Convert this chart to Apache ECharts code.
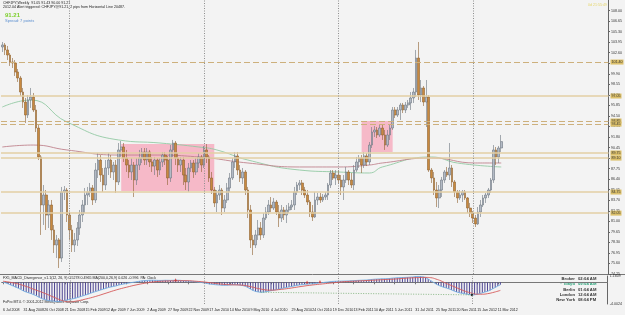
<!DOCTYPE html>
<html>
<head>
<meta charset="utf-8">
<title>CHFJPY Weekly</title>
<script src="https://cdn.jsdelivr.net/npm/echarts@6/dist/echarts.min.js"></script>
<style>
html, body { margin: 0; padding: 0; background: #f3f3f3; }
#chart { width: 625px; height: 315px; }
</style>
</head>
<body>
<div id="chart"></div>
<script>
// weekly bars, [open, close, low, high]
var bars2008 = [
	[103.33,103.59,102.69,103.97],[103.59,102.95,102.30,103.84],[102.95,102.30,101.66,103.46],
	[102.30,101.41,100.90,102.56],[101.41,101.28,100.64,101.92],[101.28,100.13,99.62,101.66],
	[100.13,99.36,98.85,100.51],[99.36,97.56,97.05,99.62],[97.56,96.28,95.52,98.08],
	[96.28,94.62,93.59,96.80],[94.62,96.54,94.23,97.18],[96.54,96.92,95.52,98.08],
	[96.92,95.26,95.00,97.44],[95.26,92.95,92.44,95.90],[92.95,89.24,88.85,93.34],
	[89.24,83.09,79.25,89.49],[83.09,84.37,80.53,85.65],[84.37,81.81,79.89,85.01],
	[81.81,83.09,80.14,83.73],[83.09,79.89,78.61,83.73],[79.89,77.97,76.94,80.53],
	[77.97,78.61,76.30,79.25],[78.61,76.30,75.02,78.86],[76.30,84.76,75.79,85.40],
	[84.76,85.01,83.73,85.52],[85.01,81.81,80.91,85.27]
];
var bars2009 = [
	[81.81,79.89,78.61,82.19],[79.89,77.97,77.07,80.53],[77.97,78.61,77.07,79.50],
	[78.61,80.14,77.84,80.91],[80.14,81.81,79.25,82.45],[81.81,83.09,80.91,83.73],
	[83.09,84.37,82.06,85.27],[84.37,84.76,83.09,85.40],[84.76,85.27,84.11,85.91],
	[85.27,83.73,83.09,85.65],[83.73,87.57,83.35,88.47],[87.57,88.85,86.55,89.75],
	[88.85,86.93,86.04,89.49],[86.93,85.65,84.76,87.83],[85.65,87.83,85.01,88.85],
	[87.83,88.85,86.93,89.75],[88.85,87.32,86.55,89.49],[87.32,88.21,86.29,88.60],
	[88.21,86.04,84.63,88.85],[86.04,90.14,85.65,91.03],[90.14,90.52,89.24,91.29],
	[90.52,89.11,88.60,91.03],[89.11,88.21,87.32,90.14],[88.21,87.32,86.55,88.85],
	[87.32,88.21,86.29,89.11],[88.21,86.29,84.11,88.60],[86.29,88.21,85.65,89.11],
	[88.21,89.11,87.57,90.14],[89.11,89.88,88.47,90.39],[89.88,88.85,88.21,90.39],
	[88.85,89.88,88.21,90.39],[89.88,88.60,87.96,90.14],[88.60,88.08,87.32,89.24],
	[88.08,88.85,86.93,89.24],[88.85,87.57,86.68,89.11],[87.57,88.60,86.93,89.11],
	[88.60,89.49,87.96,89.88],[89.49,88.85,88.21,89.88],[88.85,86.55,85.65,89.37],
	[86.55,90.14,86.04,90.77],[90.14,91.03,89.24,91.42],[91.03,89.11,88.21,91.29],
	[89.11,88.21,87.32,89.75],[88.21,88.85,87.32,89.24],[88.85,86.93,85.65,89.24],
	[86.93,86.04,85.01,87.83],[86.04,87.83,84.76,88.47],[87.83,88.47,87.32,88.85],
	[88.47,87.32,86.55,88.85],[87.32,88.47,86.93,89.11],[88.47,89.24,87.83,89.75],
	[89.24,88.21,87.32,89.49]
];
var bars2010 = [
	[88.21,90.14,87.83,90.65],[90.14,89.24,88.47,90.90],[89.24,86.55,86.04,89.49],
	[86.55,85.01,84.50,87.32],[85.01,83.35,82.83,85.40],[83.35,84.37,82.19,85.01],
	[84.37,85.01,83.73,85.65],[85.01,82.70,81.81,85.27],[82.70,83.73,82.19,84.37],
	[83.73,85.27,83.35,85.91],[85.27,86.55,84.76,87.19],[86.55,88.60,86.29,89.11],
	[88.60,89.37,87.83,89.88],[89.37,87.57,86.93,89.88],[87.57,86.55,86.04,88.21],
	[86.55,87.32,85.78,87.83],[87.32,85.01,84.37,87.57],[85.01,82.45,81.42,85.40],
	[82.45,78.61,77.58,83.09],[78.61,77.97,76.68,79.25],[77.97,79.25,77.58,79.89],
	[79.25,80.14,78.61,81.17],[80.14,79.25,78.61,80.91],[79.25,81.42,78.86,82.06],
	[81.42,82.19,81.17,82.83],[82.19,83.09,81.81,83.73],[83.09,82.70,82.19,84.11],
	[82.70,83.47,82.45,83.99],[83.47,82.19,81.81,83.73],[82.19,81.42,80.27,83.09],
	[81.42,82.45,80.91,83.09],[82.45,81.81,81.17,82.83],[81.81,82.45,80.78,83.09],
	[82.45,82.83,82.06,83.35],[82.83,83.09,82.45,83.73],[83.09,84.76,82.45,85.40],
	[84.76,85.65,84.37,86.04],[85.65,85.91,85.01,86.29],[85.91,85.01,84.37,86.29],
	[85.01,84.37,83.99,85.40],[84.37,83.47,83.09,85.01],[83.47,82.19,81.55,83.73],
	[82.19,81.55,81.04,83.09],[81.55,83.73,81.42,84.76],[83.73,84.11,83.09,84.63],
	[84.11,83.73,83.35,84.63],[83.73,84.11,83.47,84.50],[84.11,84.37,83.73,84.76],
	[84.37,85.65,83.73,85.91],[85.65,87.19,85.27,87.57],[87.19,86.55,86.29,87.57],
	[86.55,86.93,85.65,87.57]
];
var bars2011 = [
	[86.93,86.29,85.78,87.57],[86.29,85.40,84.37,86.93],[85.40,86.29,83.73,86.93],
	[86.29,87.32,85.91,87.96],[87.32,86.29,85.65,87.57],[86.29,85.65,85.27,87.19],
	[85.65,87.57,85.01,88.21],[87.57,88.60,87.32,89.24],[88.60,89.11,87.83,89.49],
	[89.11,88.21,87.19,89.49],[88.21,89.37,87.83,89.88],[89.37,88.60,88.08,89.75],
	[88.60,90.77,88.21,91.16],[90.77,92.44,90.39,93.08],[92.44,92.70,91.80,93.21],
	[92.70,92.06,91.67,93.08],[92.06,92.95,91.80,93.34],[92.95,92.06,91.42,93.34],
	[92.06,90.77,90.14,92.70],[90.77,92.06,90.52,92.70],[92.06,92.95,91.42,93.34],
	[92.95,95.26,92.70,95.64],[95.26,94.62,94.23,95.64],[94.62,95.26,94.36,95.64],
	[95.26,95.90,93.98,96.16],[95.90,95.26,94.87,96.16],[95.26,95.90,94.87,96.28],
	[95.90,96.16,95.52,96.54],[96.16,96.80,95.26,97.56],[96.80,97.56,96.16,98.08],
	[97.56,101.92,96.92,102.95],[101.92,97.18,96.54,103.97],[97.18,98.08,96.28,99.10],
	[98.08,96.28,95.77,98.33],[96.28,96.92,93.08,99.10],[96.92,87.57,87.32,97.18],
	[87.57,86.55,85.91,87.83],[86.55,85.01,84.37,87.32],[85.01,83.99,82.83,86.04],
	[83.99,85.01,82.70,85.65],[85.01,86.29,84.11,86.68],[86.29,87.32,85.91,87.57],
	[87.32,86.93,86.68,87.96],[86.93,87.83,86.29,91.03],[87.83,86.04,85.40,88.21],
	[86.04,84.76,84.11,86.29],[84.76,83.99,83.35,85.01],[83.99,84.37,83.73,85.01],
	[84.37,84.76,83.47,85.01],[84.76,83.99,83.73,85.01],[83.99,82.70,82.06,84.11],
	[82.70,82.06,81.55,83.35]
];
var bars2012 = [
	[82.06,81.42,80.78,82.32],[81.42,80.66,80.27,81.81],[80.66,82.19,80.53,82.83],
	[82.19,83.09,81.55,83.73],[83.09,83.99,82.83,84.37],[83.99,84.37,83.35,84.63],
	[84.37,85.01,83.99,85.27],[85.01,86.29,84.63,86.55],[86.29,90.14,85.91,90.77],
	[90.14,89.24,88.21,90.52],[89.24,90.39,88.47,90.65],[90.39,91.21,89.88,92.06]
];

// x axis tick labels, one every 8 weeks from the first bar
var dateLabels = ['6 Jul 2008','31 Aug 2008','26 Oct 2008','21 Dec 2008','15 Feb 2009','12 Apr 2009',
	'7 Jun 2009','2 Aug 2009','27 Sep 2009','22 Nov 2009','17 Jan 2010','14 Mar 2010','9 May 2010',
	'4 Jul 2010','29 Aug 2010','24 Oct 2010','19 Dec 2010','13 Feb 2011','10 Apr 2011','5 Jun 2011',
	'31 Jul 2011','25 Sep 2011','20 Nov 2011','15 Jan 2012','11 Mar 2012'];
var slotCount = 235;
var yearStarts = [26, 78, 130, 182];

// moving averages, [bar, price]
var maGreen = [[0,95.64],[11,96.54],[25,93.72],[45,91.42],[61,91.03],[76,90.52],[83,90.14],[95,88.85],
	[115,87.57],[130,87.32],[142,87.19],[147,87.96],[166,89.24],[176,88.47],[193,87.96]];
var maRed = [[0,90.52],[12,90.77],[25,90.14],[45,89.49],[57,89.49],[76,89.24],[95,88.47],[115,87.96],
	[130,87.96],[142,88.21],[147,88.47],[166,89.11],[183,88.47],[193,88.47]];

// horizontal lines
var solidLevels = [97.05, 89.75, 89.10, 84.75, 82.05];
var dashedLevels = [101.40, 93.85, 93.45];
var lastPrice = 91.21;

// pink boxes, [fromBar, top, toBar, bottom]
var zones = [[46, 90.90, 82, 84.88], [139, 93.85, 151, 89.88]];

// MACD histogram, one value per bar
var macdHist = [
	0.05,-0.1,-0.3,-0.5,-0.7,-0.9,-1.1,-1.35,-1.6,-1.8,-1.95,-2.1,-2.3,-2.5,-2.75,-3.0,
	-3.15,-3.3,-3.4,-3.45,-3.5,-3.55,-3.55,-3.45,-3.35,-3.25,-3.15,-3.05,-2.95,-2.8,-2.65,-2.5,
	-2.35,-2.2,-2.0,-1.85,-1.7,-1.55,-1.4,-1.25,-1.1,-0.95,-0.85,-0.75,-0.65,-0.5,-0.4,-0.3,
	-0.22,-0.12,-0.04,0.04,0.12,0.2,0.27,0.32,0.35,0.37,0.38,0.37,0.35,0.34,0.35,0.37,
	0.36,0.35,0.37,0.39,0.38,0.35,0.3,0.25,0.22,0.2,0.15,0.09,0.03,-0.04,-0.12,-0.2,
	-0.3,-0.36,-0.42,-0.47,-0.5,-0.54,-0.56,-0.54,-0.5,-0.46,-0.44,-0.47,-0.52,-0.6,-0.72,-0.95,
	-1.25,-1.5,-1.68,-1.78,-1.84,-1.82,-1.75,-1.65,-1.55,-1.45,-1.35,-1.25,-1.15,-1.05,-0.95,-0.85,
	-0.77,-0.68,-0.58,-0.5,-0.44,-0.38,-0.34,-0.3,-0.27,-0.22,-0.16,-0.11,-0.06,0.0,0.05,0.12,
	0.16,0.18,0.2,0.21,0.22,0.24,0.25,0.27,0.3,0.33,0.36,0.38,0.4,0.42,0.46,0.52,
	0.56,0.59,0.62,0.64,0.65,0.67,0.7,0.76,0.8,0.83,0.86,0.88,0.9,0.92,0.95,0.98,
	1.05,1.08,1.05,1.0,0.9,0.6,0.3,0.0,-0.3,-0.55,-0.75,-0.9,-1.05,-1.2,-1.4,-1.6,
	-1.78,-1.92,-2.02,-2.1,-2.2,-2.27,-2.32,-2.3,-2.2,-2.08,-1.95,-1.8,-1.65,-1.48,-1.2,-0.95,
	-0.7,-0.45
];
// signal line, [bar, value]
var signalLine = [[0,0.2],[4,-0.1],[8,-0.6],[12,-1.3],[16,-2.0],[20,-2.8],[24,-3.5],[26,-3.6],[28,-3.5],
	[32,-3.1],[36,-2.6],[40,-2.0],[44,-1.4],[48,-0.9],[52,-0.45],[56,-0.1],[60,0.15],[64,0.25],[70,0.3],
	[76,0.15],[80,-0.05],[84,-0.3],[88,-0.45],[92,-0.5],[96,-0.8],[100,-1.25],[104,-1.45],[108,-1.3],
	[112,-1.05],[116,-0.75],[120,-0.5],[124,-0.3],[128,-0.1],[132,0.1],[136,0.2],[140,0.3],[144,0.4],
	[148,0.5],[152,0.6],[156,0.75],[160,0.85],[164,0.9],[166,0.85],[168,0.6],[170,0.25],[172,-0.2],
	[174,-0.6],[176,-1.0],[178,-1.4],[180,-1.75],[182,-2.0],[184,-2.2],[186,-2.2],[188,-2.1],[190,-1.9],[193,-1.5]];
var divergenceLine = [[100,-1.84],[182,-2.32]];
var divergenceMarks = [[67,0.45],[118,0.05],[123,0.15]];
var macdMin = -4.0024, macdMax = 1.1609;

var clockNames = ['Broker', '* Tokyo', 'Berlin', 'London', 'New York'];
var clockTimes = ['02:04 AM', '09:04 AM', '01:04 AM', '12:04 AM', '08:04 PM'];

var bars = bars2008.concat(bars2009, bars2010, bars2011, bars2012);
var cats = [];
for (var i = 0; i < slotCount; i++) cats.push(String(i));

var font = 'Liberation Sans, Arial, sans-serif';
var chart = echarts.init(document.getElementById('chart'));

var levelLines = [];
solidLevels.forEach(function(v) {
	levelLines.push({ yAxis: v, lineStyle: { type: 'solid', color: '#e3cfa4', width: 1.6 } });
});
dashedLevels.forEach(function(v) {
	levelLines.push({ yAxis: v, lineStyle: { type: [6, 3], color: '#cdb07c', width: 1 } });
});
var yearLines = yearStarts.map(function(b) {
	return { xAxis: b, lineStyle: { type: [1, 1.5], color: '#8e8e8e', width: 1 }, label: { show: false } };
});

var graphics = [
	{ type: 'text', style: { text: 'CHFJPY,Weekly  91.05 91.43 90.00 91.21', x: 3, y: 1, fill: '#222', fontSize: 3.6, fontFamily: font } },
	{ type: 'text', style: { text: '2012.04 Alert triggered: CHFJPY@91.21, 2 pips from Horizontal Line 20487.', x: 3, y: 5, fill: '#222', fontSize: 3.6, fontFamily: font } },
	{ type: 'text', style: { text: '91.21', x: 5, y: 12, fill: '#7ccf2a', fontSize: 6, fontWeight: 'bold', fontFamily: font } },
	{ type: 'text', style: { text: 'Spread: 7 points', x: 5, y: 18.5, fill: '#5b8fd0', fontSize: 4, fontFamily: font } },
	{ type: 'text', style: { text: '0d 21:55:49', x: 588, y: 3, fill: '#e6d66a', fontSize: 3.6, fontFamily: font } },
	{ type: 'text', style: { text: 'FX5_MACD_Divergence_v1.1(12, 26, 9) 0.5278 0.4965 MA(200,0,26,9) 0.026 -0.996  PA: Clock', x: 3, y: 276, fill: '#222', fontSize: 3.6, fontFamily: font } },
	{ type: 'text', style: { text: 'FxPro MT4. \u00a9 2001-2012 MetaQuotes Software Corp.', x: 3, y: 300, fill: '#222', fontSize: 3.6, fontFamily: font } },
	{ type: 'line', shape: { x1: 0, y1: 274.5, x2: 625, y2: 274.5 }, style: { stroke: '#777', lineWidth: 1 } }
];
clockNames.forEach(function(n, k) {
	graphics.push({ type: 'text', style: { text: n, x: 575, y: 277 + k * 5.3, align: 'right', fill: k === 1 ? '#2aa37a' : '#333', fontSize: 4.2, fontWeight: 'bold', fontFamily: font } });
	graphics.push({ type: 'text', style: { text: clockTimes[k], x: 578, y: 277 + k * 5.3, fill: k === 1 ? '#2aa37a' : '#333', fontSize: 4.2, fontWeight: 'bold', fontFamily: font } });
});

chart.setOption({
	animation: false,
	backgroundColor: '#f3f3f3',
	textStyle: { fontFamily: font },
	graphic: graphics,
	grid: [
		{ left: 1, right: 14, top: 0, height: 274 },
		{ left: 1, right: 14, top: 276, height: 28 }
	],
	xAxis: [
		{
			type: 'category', gridIndex: 0, data: cats, boundaryGap: true,
			axisLine: { show: false }, axisTick: { show: false }, axisLabel: { show: false }
		},
		{
			type: 'category', gridIndex: 1, data: cats, boundaryGap: true,
			axisLine: { show: true, lineStyle: { color: '#777', width: 1 } },
			axisTick: {
				show: true, length: 2, alignWithLabel: true, lineStyle: { color: '#777' },
				interval: function(idx) { return idx % 8 === 0 && idx / 8 < dateLabels.length; }
			},
			axisLabel: {
				show: true, fontSize: 3.6, color: '#222', align: 'left', margin: 4,
				interval: function(idx) { return idx % 8 === 0 && idx / 8 < dateLabels.length; },
				formatter: function(v, idx) { return dateLabels[idx / 8] || ''; }
			}
		}
	],
	yAxis: [
		{
			type: 'value', gridIndex: 0, position: 'right', min: 74.25, max: 109.35, interval: 1.35,
			axisLine: { show: true, lineStyle: { color: '#666', width: 1 } },
			axisTick: { show: true, length: 1.5, lineStyle: { color: '#666' } },
			splitLine: { show: false },
			axisLabel: {
				fontSize: 3.6, color: '#333', margin: 2.5, showMaxLabel: false,
				formatter: function(v) { return v.toFixed(2); }
			}
		},
		{
			type: 'value', gridIndex: 1, position: 'right', min: macdMin, max: macdMax, interval: macdMax - macdMin,
			axisLine: { show: true, lineStyle: { color: '#666', width: 1 } },
			axisTick: { show: false },
			splitLine: { show: false },
			axisLabel: {
				fontSize: 3.6, color: '#333', margin: 2.5,
				formatter: function(v) { return v.toFixed(4); }
			}
		}
	],
	series: [
		{
			// background objects: pink boxes, levels, year separators
			type: 'line', xAxisIndex: 0, yAxisIndex: 0, data: [], z: 1, silent: true,
			markArea: {
				silent: true,
				itemStyle: { color: '#f6b9c8' },
				data: zones.map(function(z) {
					return [{ xAxis: z[0], yAxis: z[1] }, { xAxis: z[2], yAxis: z[3] }];
				})
			},
			markLine: {
				silent: true, symbol: ['none', 'none'], animation: false,
				label: {
					show: true, position: 'end', distance: 2, fontSize: 3.6, color: '#333',
					backgroundColor: '#dcc06a', padding: [0.5, 1],
					formatter: function(p) { return p.value.toFixed(2); }
				},
				data: levelLines.concat(yearLines)
			}
		},
		{
			type: 'line', xAxisIndex: 0, yAxisIndex: 0, data: maGreen, smooth: true, symbol: 'none', z: 2,
			lineStyle: { color: '#93c9a4', width: 0.9 }
		},
		{
			type: 'line', xAxisIndex: 0, yAxisIndex: 0, data: maRed, smooth: true, symbol: 'none', z: 2,
			lineStyle: { color: '#c0838d', width: 0.9 }
		},
		{
			type: 'candlestick', xAxisIndex: 0, yAxisIndex: 0, data: bars, z: 3, barWidth: 2.2,
			itemStyle: {
				color: '#b3bac5', color0: '#c8893f',
				borderColor: '#6c7580', borderColor0: '#8f6230', borderWidth: 0.6
			},
			markLine: {
				silent: true, symbol: ['none', 'none'],
				lineStyle: { opacity: 0 },
				label: {
					show: true, position: 'end', distance: 2, fontSize: 3.6, color: '#fff',
					backgroundColor: '#000', padding: [0.5, 1],
					formatter: function(p) { return p.value.toFixed(2); }
				},
				data: [{ yAxis: lastPrice }]
			}
		},
		{
			type: 'bar', xAxisIndex: 1, yAxisIndex: 1, data: macdHist, barWidth: 0.7, z: 2,
			itemStyle: { color: '#4d4592' },
			markLine: {
				silent: true, symbol: ['none', 'none'],
				data: yearLines
			}
		},
		{
			type: 'line', xAxisIndex: 1, yAxisIndex: 1, data: macdHist, symbol: 'none', z: 3,
			lineStyle: { color: '#72aee3', width: 0.9 }
		},
		{
			type: 'line', xAxisIndex: 1, yAxisIndex: 1, data: signalLine, smooth: true, symbol: 'none', z: 3,
			lineStyle: { color: '#d65a5a', width: 0.9 }
		},
		{
			type: 'line', xAxisIndex: 1, yAxisIndex: 1, data: divergenceLine, symbol: 'none', z: 3,
			lineStyle: { color: '#6fa86a', width: 0.8, type: [1, 1.5] }
		},
		{
			type: 'scatter', xAxisIndex: 1, yAxisIndex: 1, data: divergenceMarks, symbol: 'triangle', symbolSize: 3, z: 4,
			itemStyle: { color: '#d0302c' }
		},
		{
			type: 'scatter', xAxisIndex: 1, yAxisIndex: 1, data: [divergenceLine[1]], symbol: 'circle', symbolSize: 2.5, z: 4,
			itemStyle: { color: '#111' }
		}
	]
});
</script>
</body>
</html>
